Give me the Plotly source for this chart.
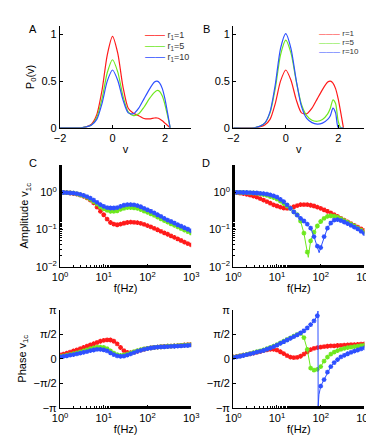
import math
import plotly.graph_objects as go

W, H = 374, 437
_RED = '#FF1A1A'
_GREEN = '#6EE81E'
_BLUE = '#2E50FF'
_FONT = 'Liberation Sans, Arial, sans-serif'

# ---- panels A / B : stationary density P0(v)
V = [-2.0, -1.2, -1.0, -0.8, -0.6, -0.4, -0.2, 0.0, 0.2, 0.4, 0.6, 0.8,
     1.0, 1.2, 1.4, 1.6, 1.7, 1.8, 1.9, 2.0, 2.1, 2.2]
A_RED = [0, 0, 0.01, 0.04, 0.14, 0.40, 0.78, 0.98, 0.80, 0.44, 0.21, 0.155,
         0.13, 0.10, 0.095, 0.105, 0.105, 0.095, 0.075, 0.05, 0.025, 0]
A_GREEN = [0, 0, 0.01, 0.03, 0.11, 0.31, 0.59, 0.73, 0.60, 0.34, 0.17, 0.13,
           0.15, 0.22, 0.31, 0.38, 0.40, 0.39, 0.34, 0.25, 0.13, 0]
A_BLUE = [0, 0, 0.01, 0.03, 0.09, 0.26, 0.50, 0.62, 0.51, 0.30, 0.16, 0.15,
          0.21, 0.31, 0.41, 0.49, 0.50, 0.48, 0.42, 0.31, 0.16, 0]
B_RED = A_BLUE
B_GREEN = [0, 0, 0.015, 0.05, 0.16, 0.42, 0.78, 0.94, 0.80, 0.50, 0.25, 0.13,
           0.08, 0.07, 0.09, 0.15, 0.21, 0.30, 0.26, 0.07, 0, 0]
B_BLUE = [0, 0, 0.015, 0.05, 0.17, 0.46, 0.85, 1.01, 0.85, 0.51, 0.23, 0.10,
          0.055, 0.04, 0.05, 0.09, 0.13, 0.21, 0.16, 0, 0, 0]
A_NAMES = ['r<sub>1</sub>=1', 'r<sub>1</sub>=5', 'r<sub>1</sub>=10']
B_NAMES = ['r=1', 'r=5', 'r=10']

# ---- panels C-F : linear response v1c vs frequency
FREQ = [1.0, 1.194, 1.425, 1.701, 2.031, 2.424, 2.894, 3.455, 4.125, 4.924,
        5.878, 7.017, 8.377, 10.0, 11.94, 14.25, 17.01, 20.31, 24.24, 28.94,
        34.55, 41.25, 49.24, 58.78, 70.17, 83.77, 100.0, 119.4, 142.5, 170.1,
        203.1, 242.4, 289.4, 345.5, 412.5, 492.4, 587.8, 701.7, 837.7, 1000.0]

C_AMP_RED = [1.0, 0.99, 0.98, 0.96, 0.93, 0.89, 0.84, 0.78, 0.71, 0.62,
             0.52, 0.40, 0.31, 0.25, 0.19, 0.155, 0.14, 0.135, 0.14, 0.148,
             0.155, 0.158, 0.157, 0.153, 0.147, 0.138, 0.128, 0.118, 0.108, 0.099,
             0.09, 0.082, 0.075, 0.068, 0.062, 0.056, 0.051, 0.046, 0.042, 0.039]
C_AMP_GREEN = [1.0, 0.99, 0.98, 0.97, 0.95, 0.91, 0.86, 0.80, 0.73, 0.65,
               0.56, 0.48, 0.41, 0.36, 0.33, 0.31, 0.31, 0.32, 0.35, 0.37,
               0.39, 0.39, 0.385, 0.37, 0.345, 0.315, 0.29, 0.265, 0.24, 0.215,
               0.195, 0.175, 0.158, 0.143, 0.13, 0.118, 0.107, 0.097, 0.088, 0.08]
C_AMP_BLUE = [1.0, 0.99, 0.98, 0.97, 0.95, 0.92, 0.88, 0.83, 0.77, 0.70,
              0.62, 0.54, 0.47, 0.42, 0.39, 0.38, 0.38, 0.39, 0.42, 0.45,
              0.47, 0.47, 0.46, 0.44, 0.41, 0.37, 0.34, 0.31, 0.28, 0.25,
              0.225, 0.20, 0.18, 0.165, 0.15, 0.135, 0.123, 0.112, 0.102, 0.093]

D_AMP_RED = [1.0, 0.98, 0.95, 0.92, 0.88, 0.84, 0.79, 0.74, 0.68, 0.62,
             0.56, 0.51, 0.46, 0.43, 0.40, 0.375, 0.37, 0.38, 0.41, 0.44,
             0.465, 0.47, 0.465, 0.45, 0.43, 0.40, 0.37, 0.34, 0.31, 0.28,
             0.25, 0.225, 0.20, 0.18, 0.16, 0.145, 0.13, 0.117, 0.105, 0.095]
D_AMP_GREEN = [1.0, 1.0, 0.99, 0.99, 0.98, 0.97, 0.96, 0.94, 0.91, 0.87,
               0.83, 0.77, 0.72, 0.66, 0.58, 0.50, 0.43, 0.37, 0.30, 0.25,
               0.17, 0.08, 0.025, 0.05, 0.085, 0.125, 0.165, 0.20, 0.225, 0.235,
               0.23, 0.215, 0.195, 0.175, 0.157, 0.14, 0.125, 0.11, 0.097, 0.085]
D_AMP_BLUE = [1.0, 1.0, 1.0, 0.99, 0.99, 0.98, 0.97, 0.96, 0.94, 0.92,
              0.89, 0.85, 0.80, 0.74, 0.65, 0.56, 0.46, 0.37, 0.30, 0.245,
              0.20, 0.17, 0.14, 0.11, 0.065, 0.036, 0.033, 0.065, 0.11, 0.15,
              0.18, 0.185, 0.175, 0.16, 0.145, 0.13, 0.117, 0.105, 0.09, 0.078]
# extra theory points inside the resonance dips (between simulation samples)
D_DIP_GREEN_F, D_DIP_GREEN = [52.0], [0.018]
D_DIP_BLUE_F, D_DIP_BLUE = [92.0], [0.024]

E_PH_RED = [0.25, 0.30, 0.36, 0.43, 0.50, 0.57, 0.64, 0.72, 0.80, 0.88,
            0.96, 1.04, 1.12, 1.18, 1.21, 1.20, 1.12, 0.95, 0.72, 0.52,
            0.41, 0.39, 0.42, 0.48, 0.55, 0.61, 0.66, 0.70, 0.73, 0.75,
            0.77, 0.79, 0.80, 0.81, 0.83, 0.84, 0.86, 0.88, 0.90, 0.92]
E_PH_GREEN = [0.15, 0.19, 0.23, 0.28, 0.33, 0.38, 0.44, 0.50, 0.57, 0.64,
              0.70, 0.74, 0.75, 0.72, 0.64, 0.50, 0.36, 0.26, 0.22, 0.24,
              0.30, 0.38, 0.45, 0.52, 0.58, 0.63, 0.67, 0.70, 0.73, 0.75,
              0.77, 0.78, 0.80, 0.81, 0.82, 0.84, 0.85, 0.87, 0.88, 0.90]
E_PH_BLUE = [0.12, 0.15, 0.19, 0.23, 0.27, 0.31, 0.36, 0.41, 0.46, 0.52,
             0.56, 0.60, 0.60, 0.57, 0.50, 0.38, 0.26, 0.18, 0.15, 0.17,
             0.23, 0.31, 0.39, 0.47, 0.54, 0.60, 0.65, 0.69, 0.72, 0.74,
             0.76, 0.77, 0.78, 0.79, 0.80, 0.81, 0.83, 0.84, 0.85, 0.87]

F_PH_RED = [0.12, 0.15, 0.19, 0.23, 0.27, 0.31, 0.36, 0.41, 0.46, 0.52,
            0.57, 0.61, 0.60, 0.55, 0.45, 0.33, 0.20, 0.11, 0.07, 0.09,
            0.16, 0.30, 0.45, 0.58, 0.66, 0.71, 0.75, 0.78, 0.80, 0.82,
            0.83, 0.85, 0.86, 0.87, 0.88, 0.90, 0.91, 0.92, 0.94, 0.95]
F_PH_GREEN = [0.10, 0.14, 0.18, 0.23, 0.28, 0.33, 0.39, 0.45, 0.50, 0.56,
              0.64, 0.72, 0.81, 0.90, 1.01, 1.12, 1.23, 1.34, 1.45, 1.55,
              1.62, 1.35, 0.60, -0.60, -0.73, -0.68, -0.50, -0.15, 0.10, 0.30,
              0.42, 0.52, 0.60, 0.66, 0.71, 0.75, 0.78, 0.81, 0.84, 0.87]
F_PH_BLUE = [0.08, 0.12, 0.16, 0.21, 0.26, 0.31, 0.36, 0.42, 0.47, 0.53,
             0.61, 0.69, 0.78, 0.87, 0.98, 1.09, 1.20, 1.31, 1.42, 1.53,
             1.65, 1.79, 1.97, 2.18, 2.42, 2.75, -1.75, -1.33, -0.85, -0.50,
             -0.25, -0.05, 0.12, 0.22, 0.32, 0.41, 0.49, 0.56, 0.63, 0.70]
# theory curve wraps from +pi to -pi just below 90 Hz
F_WRAP_BLUE_F, F_WRAP_BLUE = [86.5, 87.5, 91.0], [3.05, -3.05, -2.3]

COLORS = [_RED, _GREEN, _BLUE]


def px(x):
    return x / W


def py(y):
    return 1 - y / H


def merged(f, v, f_extra, v_extra):
    pts = sorted(zip(list(f) + list(f_extra), list(v) + list(v_extra)))
    return [p[0] for p in pts], [p[1] for p in pts]


def star(col):
    return dict(color=col, symbol='asterisk-open', size=4, line=dict(width=1.3, color=col))


fig = go.Figure()

# density curves
for xa, ya, series in [('x', 'y', [A_RED, A_GREEN, A_BLUE]),
                       ('x2', 'y2', [B_RED, B_GREEN, B_BLUE])]:
    for col, vals in zip(COLORS, series):
        fig.add_trace(go.Scatter(x=V, y=vals, mode='lines', xaxis=xa, yaxis=ya,
                                 line=dict(color=col, width=1.2, shape='spline', smoothing=0.7),
                                 showlegend=False, hoverinfo='skip'))

# C and E: same samples for line and markers
for xa, ya, series in [('x3', 'y3', [C_AMP_RED, C_AMP_GREEN, C_AMP_BLUE]),
                       ('x5', 'y5', [E_PH_RED, E_PH_GREEN, E_PH_BLUE])]:
    for col, vals in zip(COLORS, series):
        fig.add_trace(go.Scatter(x=FREQ, y=vals, mode='lines+markers', xaxis=xa, yaxis=ya,
                                 line=dict(color=col, width=1), marker=star(col),
                                 showlegend=False, hoverinfo='skip'))

# D and F: theory line (with extra points) + simulation markers
extras = {
    ('x4', 1): (D_DIP_GREEN_F, D_DIP_GREEN),
    ('x4', 2): (D_DIP_BLUE_F, D_DIP_BLUE),
    ('x6', 2): (F_WRAP_BLUE_F, F_WRAP_BLUE),
}
for xa, ya, series in [('x4', 'y4', [D_AMP_RED, D_AMP_GREEN, D_AMP_BLUE]),
                       ('x6', 'y6', [F_PH_RED, F_PH_GREEN, F_PH_BLUE])]:
    for i, (col, vals) in enumerate(zip(COLORS, series)):
        fe, ve = extras.get((xa, i), ([], []))
        lf, lv = merged(FREQ, vals, fe, ve)
        fig.add_trace(go.Scatter(x=lf, y=lv, mode='lines', xaxis=xa, yaxis=ya,
                                 line=dict(color=col, width=1),
                                 showlegend=False, hoverinfo='skip'))
        fig.add_trace(go.Scatter(x=FREQ, y=vals, mode='markers', xaxis=xa, yaxis=ya,
                                 marker=star(col), showlegend=False, hoverinfo='skip'))

_AX = dict(showline=True, linecolor='black', linewidth=1.3, ticks='inside', ticklen=3,
           tickcolor='black', showgrid=False, zeroline=False, mirror=False,
           tickfont=dict(size=11, color='black', family=_FONT))
_TITLE = dict(size=11, color='black', family=_FONT)

col_x = [[px(46), px(183)], [px(227), px(364)]]
row_y = [[py(117), py(12.5)], [py(260), py(155)], [py(405), py(304)]]

log_x = dict(type='log', range=[0, 3], tickvals=[1, 10, 100, 1000],
             ticktext=['10<sup>0</sup>', '10<sup>1</sup>', '10<sup>2</sup>', '10<sup>3</sup>'],
             minor=dict(ticks='inside', ticklen=2, tickcolor='black'),
             title=dict(text='f(Hz)', font=_TITLE, standoff=2))
amp_y = dict(type='log', range=[-2, 0.74], tickvals=[0.01, 0.1, 1],
             ticktext=['10<sup>\u22122</sup>', '10<sup>\u22121</sup>', '10<sup>0</sup>'],
             minor=dict(ticks='inside', ticklen=2, tickcolor='black'))
ph_y = dict(range=[-math.pi, math.pi],
            tickvals=[-math.pi, -math.pi / 2, 0, math.pi / 2, math.pi],
            ticktext=['\u2212\u03c0', '\u2212\u03c0/2', '0', '\u03c0/2', '\u03c0'])
v_x = dict(range=[-2, 3], tickvals=[-2, 0, 2], ticktext=['\u22122', '0', '2'],
           title=dict(text='v', font=_TITLE, standoff=2))
p_y = dict(range=[0, 1.09], tickvals=[0, 0.5, 1], ticktext=['0', '0.5', '1'])

fig.update_layout(
    width=W, height=H,
    paper_bgcolor='white', plot_bgcolor='white',
    margin=dict(l=0, r=0, t=0, b=0),
    font=dict(family=_FONT, color='black'),
    showlegend=False,
    xaxis=dict(**_AX, **v_x, domain=col_x[0], anchor='y'),
    yaxis=dict(**_AX, **p_y, domain=row_y[0], anchor='x',
               title=dict(text='P<sub>0</sub>(v)', font=_TITLE, standoff=4)),
    xaxis2=dict(**_AX, **v_x, domain=col_x[1], anchor='y2'),
    yaxis2=dict(**_AX, **p_y, domain=row_y[0], anchor='x2'),
    xaxis3=dict(**_AX, **log_x, domain=col_x[0], anchor='y3'),
    yaxis3=dict(**_AX, **amp_y, domain=row_y[1], anchor='x3',
                title=dict(text='Amplitude v<sub>1c</sub>', font=_TITLE, standoff=4)),
    xaxis4=dict(**_AX, **log_x, domain=col_x[1], anchor='y4'),
    yaxis4=dict(**_AX, **amp_y, domain=row_y[1], anchor='x4'),
    xaxis5=dict(**_AX, **log_x, domain=col_x[0], anchor='y5'),
    yaxis5=dict(**_AX, **ph_y, domain=row_y[2], anchor='x5',
                title=dict(text='Phase v<sub>1c</sub>', font=_TITLE, standoff=4)),
    xaxis6=dict(**_AX, **log_x, domain=col_x[1], anchor='y6'),
    yaxis6=dict(**_AX, **ph_y, domain=row_y[2], anchor='x6'),
)

# panel letters
for lab, x, y in [('A', 12, 7), ('B', 199, 7), ('C', 12, 153), ('D', 199, 153)]:
    fig.add_annotation(text=lab, x=px(x), y=py(y), xref='paper', yref='paper',
                       showarrow=False, font=dict(size=11, color='black', family=_FONT))

# legends (line sample + label)
for names, x0, ys, fs, dash in [(A_NAMES, 134, [22, 33, 44], 9, "<span style='color:%s;font-size:10px'>\u2014\u2014</span> %s"),
                                (B_NAMES, 315, [20, 29.5, 39], 8, "<span style='color:%s;font-size:7px'>\u2014\u2014\u2014</span> %s")]:
    for col, name, y in zip(COLORS, names, ys):
        fig.add_annotation(
            text=dash % (col, name),
            x=px(x0), y=py(y), xref='paper', yref='paper', xanchor='left', yanchor='middle',
            showarrow=False, borderpad=0, font=dict(size=fs, color='#333333', family=_FONT))

fig.write_html('out.html')
